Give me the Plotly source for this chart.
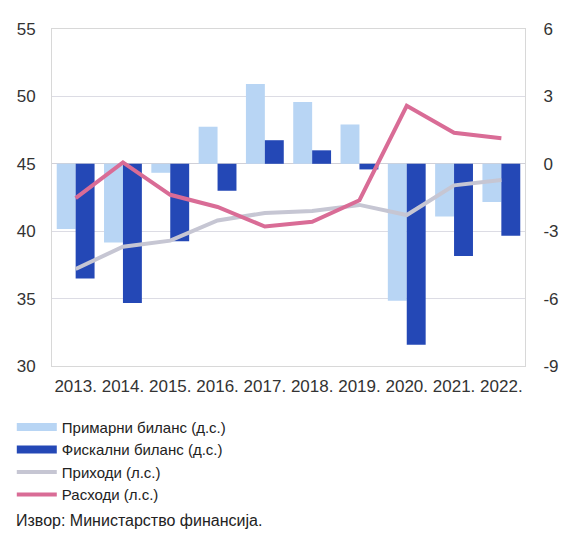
import plotly.graph_objects as go

years = ["2013.", "2014.", "2015.", "2016.", "2017.", "2018.", "2019.", "2020.", "2021.", "2022."]

# Balances, % of GDP (right axis)
primary_balance = [-2.9, -3.5, -0.4, 1.65, 3.55, 2.75, 1.75, -6.1, -2.35, -1.7]
fiscal_balance = [-5.1, -6.2, -3.45, -1.2, 1.05, 0.6, -0.25, -8.05, -4.1, -3.2]

# Revenues and expenditures, % of GDP (left axis)
revenues = [37.2, 38.85, 39.3, 40.8, 41.35, 41.5, 41.95, 41.2, 43.4, 43.8]
expenditures = [42.45, 45.1, 42.7, 41.8, 40.35, 40.7, 42.3, 49.3, 47.3, 46.9]

right_ticks = [-9, -6, -3, 0, 3, 6]
right_labels = ["-9", "-6", "-3", "0", "3", "6"]

LIGHT = "#b8d5f4"
DARK = "#2448b6"
GREY = "#c6c6d3"
PINK = "#d96c96"
FONT = "Liberation Sans, Arial, sans-serif"

fig = go.Figure()

fig.add_trace(go.Bar(x=years, y=primary_balance, name="Примарни биланс (д.с.)",
                     marker=dict(color=LIGHT, line=dict(width=0)), showlegend=False, yaxis="y"))
fig.add_trace(go.Bar(x=years, y=fiscal_balance, name="Фискални биланс (д.с.)",
                     marker=dict(color=DARK, line=dict(width=0)), showlegend=False, yaxis="y"))

fig.add_trace(go.Scatter(x=years, y=revenues, name="Приходи (л.с.)", mode="lines",
                         line=dict(color=GREY, width=4), showlegend=False, yaxis="y2"))
fig.add_trace(go.Scatter(x=years, y=expenditures, name="Расходи (л.с.)", mode="lines",
                         line=dict(color=PINK, width=4), showlegend=False, yaxis="y2"))

# legend entries drawn as wide strips
for name, color, w in [("Примарни биланс (д.с.)", LIGHT, 8), ("Фискални биланс (д.с.)", DARK, 8),
                       ("Приходи (л.с.)", GREY, 4), ("Расходи (л.с.)", PINK, 4)]:
    fig.add_trace(go.Scatter(x=[None], y=[None], mode="lines", name=name,
                             line=dict(color=color, width=w), showlegend=True, yaxis="y2"))

fig.update_layout(
    width=561, height=536,
    margin=dict(l=50, r=36, t=29, b=170),
    paper_bgcolor="white", plot_bgcolor="white",
    font=dict(family=FONT, color="#333333", size=17),
    barmode="group", bargap=0.2, bargroupgap=0,
    xaxis=dict(type="category", tickfont=dict(size=17), tickangle=0, automargin=False,
               showgrid=False, showline=True, linecolor="#d8d8d8", linewidth=1, mirror=True,
               ticks="", ticklen=0, ticklabelstandoff=5),
    yaxis=dict(side="right", range=[-9, 6], tickvals=right_ticks, ticktext=right_labels,
               automargin=False, showgrid=False, zeroline=True, zerolinecolor="#d0d0d8",
               zerolinewidth=1, showline=True, linecolor="#d8d8d8", ticks="",
               tickfont=dict(size=17), ticklabelstandoff=14),
    yaxis2=dict(side="left", overlaying="y", range=[30, 55], dtick=5, tick0=30,
                automargin=False, showgrid=True, gridcolor="#dcdce4", gridwidth=1,
                zeroline=False, showline=True, linecolor="#d8d8d8", ticks="",
                tickfont=dict(size=17), ticklabelstandoff=12),
    legend=dict(x=-0.085, y=-0.133, xanchor="left", yanchor="top", orientation="v",
                font=dict(size=15, color="#222222"), tracegroupgap=0, itemwidth=40,
                bgcolor="rgba(0,0,0,0)", traceorder="normal"),
    annotations=[dict(text="Извор: Министарство финансија.", xref="paper", yref="paper",
                      x=-0.08, y=-0.457, xanchor="left", yanchor="middle", showarrow=False,
                      font=dict(size=16, color="#222222"))],
)

fig.write_html("out.html")
